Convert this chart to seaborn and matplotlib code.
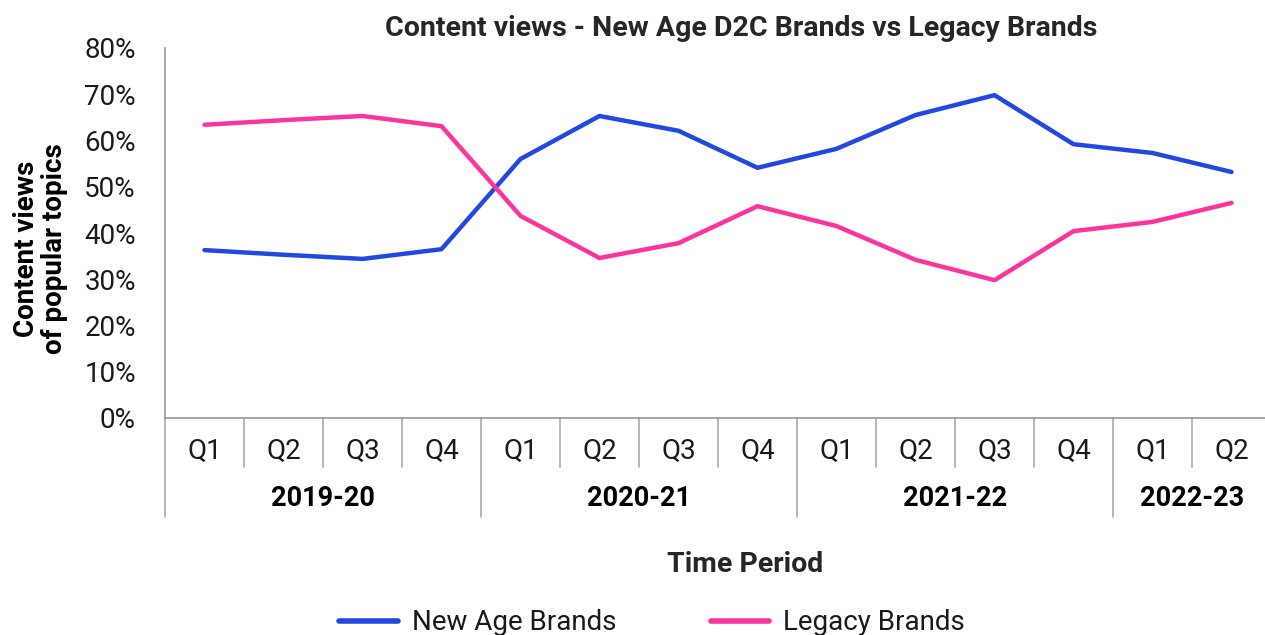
import pandas as pd
import matplotlib.pyplot as plt
import matplotlib.transforms as mtransforms
import seaborn as sns

# -----------------------------
# 1. Data
# -----------------------------
quarters = ["Q1", "Q2", "Q3", "Q4", "Q1", "Q2", "Q3", "Q4",
            "Q1", "Q2", "Q3", "Q4", "Q1", "Q2"]
years = ["2019-20", "2020-21", "2021-22", "2022-23"]
year_sizes = [4, 4, 4, 2]
new_age = [36.3, 35.3, 34.4, 36.5, 56.0, 65.3, 62.1, 54.1,
           58.2, 65.5, 69.8, 59.2, 57.3, 53.2]
legacy = [63.4, 64.4, 65.3, 63.1, 43.7, 34.6, 37.8, 45.8,
          41.5, 34.2, 29.8, 40.4, 42.4, 46.5]
series_names = ["New Age Brands", "Legacy Brands"]
colors = ["#2148E0", "#FD349C"]

df = pd.DataFrame({
    "pos": list(range(len(quarters))) * 2,
    "value": new_age + legacy,
    "series": [series_names[0]] * len(new_age) + [series_names[1]] * len(legacy),
})

# -----------------------------
# 2. Figure
# -----------------------------
sns.set_style("white")
plt.rcParams['font.family'] = ['Roboto', 'DejaVu Sans']
FS = 20
TXT = "#1a1a1a"

fig = plt.figure(figsize=(12.65, 6.35), dpi=100)
W, H = 1265, 635
ax = fig.add_axes([165 / W, 1 - 418 / H, 1106 / W, 370 / H])

sns.lineplot(data=df, x="pos", y="value", hue="series", palette=colors,
             linewidth=3.2, ax=ax, legend=False, clip_on=False)

ax.set_xlim(-0.5, len(quarters) - 0.5)
ax.set_ylim(0, 80)
ax.set_yticks(range(0, 81, 10))
ax.set_yticklabels([f"{v}%" for v in range(0, 81, 10)], fontsize=FS, color=TXT)
ax.set_xticks(range(len(quarters)))
ax.set_xticklabels(quarters, fontsize=FS, color=TXT)
ax.tick_params(axis="both", length=0)
ax.tick_params(axis="y", pad=21)
ax.tick_params(axis="x", pad=14)

for side in ["top", "right"]:
    ax.spines[side].set_visible(False)
for side in ["left", "bottom"]:
    ax.spines[side].set_color("#999999")
    ax.spines[side].set_linewidth(1.2)
ax.set_xlabel("")
ax.set_ylabel("Content views\nof popular topics", fontsize=FS, fontweight="bold",
              linespacing=1.05, color="#000000")
ax.yaxis.set_label_coords(-0.088, 0.457)

# category separators below the axis
trans = mtransforms.blended_transform_factory(ax.transData, ax.transAxes)
short = -49 / 370
tall = -99 / 370
year_edges = [-0.5]
for n in year_sizes:
    year_edges.append(year_edges[-1] + n)
for i in range(len(quarters) + 1):
    b = i - 0.5
    bottom = tall if b in year_edges else short
    ax.plot([b, b], [0, bottom], transform=trans, color="#aaaaaa",
            linewidth=1.2, clip_on=False)

for y, a, b in zip(years, year_edges[:-1], year_edges[1:]):
    ax.text((a + b) / 2, -80 / 370, y, transform=trans, ha="center", va="center",
            fontsize=FS - 0.5, fontweight="bold", color="#000000")

ax.set_title("Content views - New Age D2C Brands vs Legacy Brands",
             fontsize=FS + 0.5, fontweight="bold", x=(741 - 165) / 1106, pad=9)
fig.text(745 / W, 1 - 565 / H, "Time Period", ha="center", va="center",
         fontsize=FS + 0.5, fontweight="bold")

# legend at the bottom
handles = [plt.Line2D([], [], color=c, linewidth=4) for c in colors]
fig.legend(handles, series_names, loc="center", bbox_to_anchor=(652 / W, 1 - 623 / H),
           ncol=2, frameon=False, handlelength=2.1, columnspacing=3.4,
           handletextpad=0.5, prop={"size": FS}, labelcolor=TXT)

fig.savefig("out.png", dpi=100)
